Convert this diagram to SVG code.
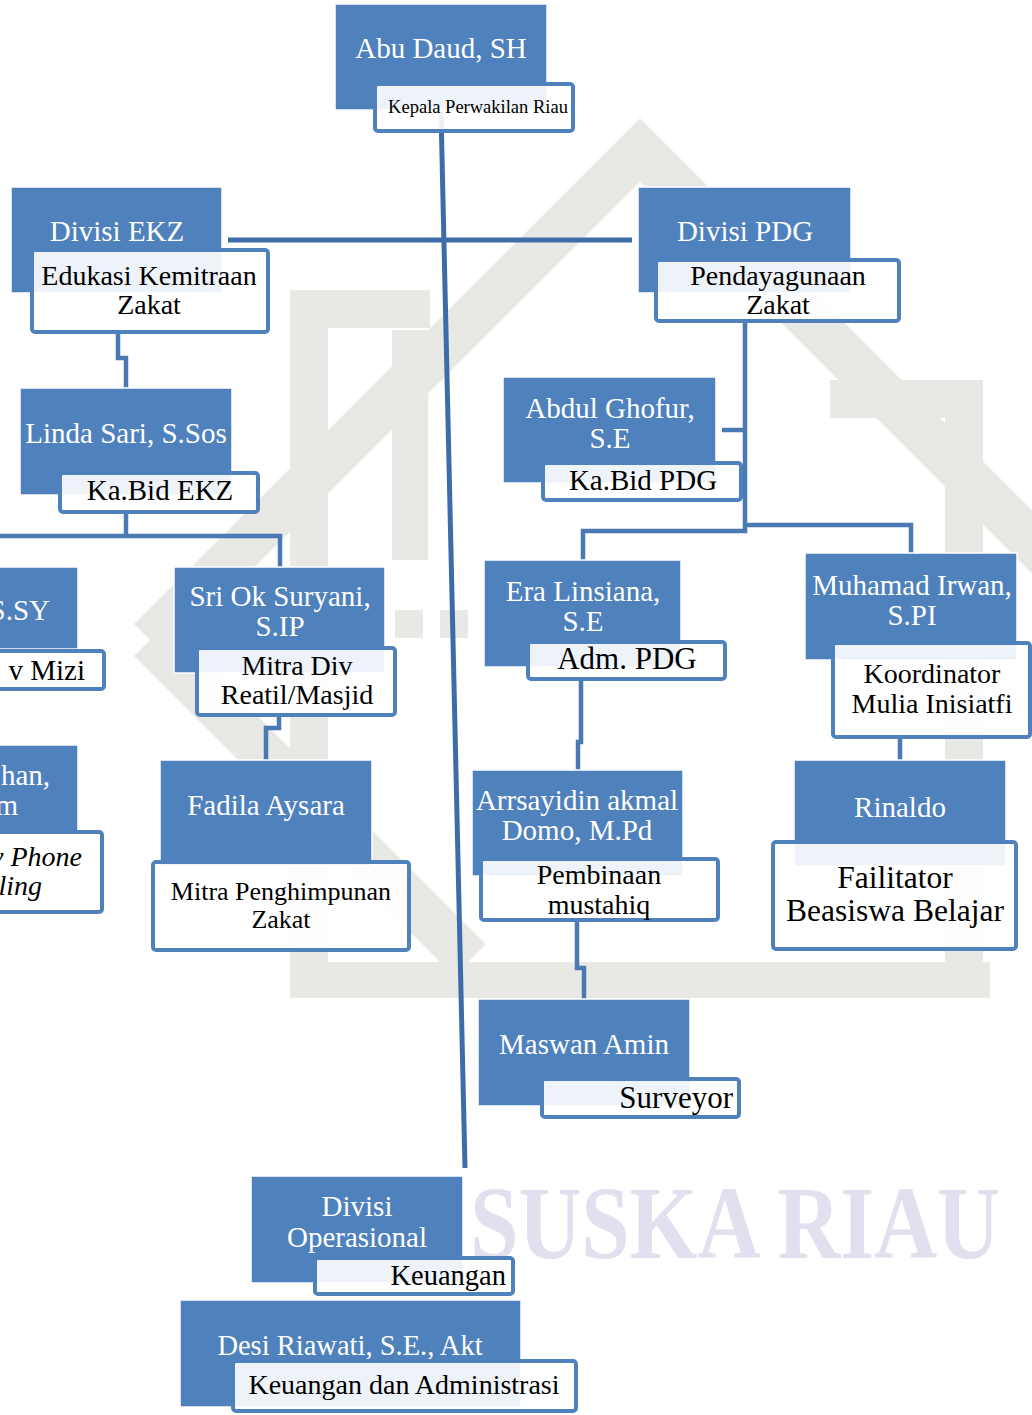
<svg xmlns="http://www.w3.org/2000/svg" width="1032" height="1415" viewBox="0 0 1032 1415">
<style>
.box{fill:#4F81BD;stroke:#fff;stroke-width:1.5}
.sub{fill:#fff;fill-opacity:0.9;stroke:#4F81BD;stroke-width:4}
.nm{font-family:"Liberation Serif","Times New Roman",serif;font-size:29px;fill:#fff;text-anchor:middle}
.tx{font-family:"Liberation Serif","Times New Roman",serif;font-size:28px;fill:#000;text-anchor:middle}
.ln{fill:none;stroke:#4A79B3;stroke-width:4.5}
.wm{fill:#E8E9E4}
</style>
<g id="watermark">
<polyline points="150,640 640,150 1060,570" fill="none" stroke="#E8E9E4" stroke-width="45"/>
<polyline points="150,640 470,960" fill="none" stroke="#E8E9E4" stroke-width="45"/>
<rect class="wm" x="290" y="962" width="700" height="36"/>
<rect class="wm" x="290" y="290" width="38" height="700"/>
<rect class="wm" x="945" y="380" width="38" height="610"/>
<rect class="wm" x="392" y="330" width="36" height="230"/>
<rect class="wm" x="290" y="290" width="140" height="38"/>
<rect class="wm" x="395" y="610" width="28" height="28"/>
<rect class="wm" x="440" y="610" width="28" height="28"/>
<rect class="wm" x="830" y="380" width="153" height="38"/>
<text x="470" y="1258" font-family="Liberation Serif,serif" font-weight="bold" font-size="104" fill="#E0E0EF" textLength="530" lengthAdjust="spacingAndGlyphs">SUSKA RIAU</text>
</g>
<g id="connectors">
<line x1="441" y1="112" x2="465" y2="1168" stroke="#3E6CA8" stroke-width="5"/>
<line x1="228" y1="240" x2="632" y2="240" stroke="#3E6CA8" stroke-width="5"/>
<path class="ln" d="M118 330 V358 H126 V390"/>
<path class="ln" d="M126 510 V536 H0 M126 536 H280 V568"/>
<path class="ln" d="M279 713 V728 H266 V762"/>
<path class="ln" d="M745 319 V531 H583 V562 M745 525 H911 V555 M722 430 H745"/>
<path class="ln" d="M581 677 V742 H578 V772"/>
<path class="ln" d="M577 918 V968 H584 V1001"/>
<path class="ln" d="M900 735 V762"/>
</g>
<g id="n-abu">
<rect class="box" x="335" y="4" width="212" height="106"/>
<text class="nm" x="441" y="58">Abu Daud, SH</text>
<rect class="sub" x="375" y="84" width="198" height="47" rx="3"/>
<text class="tx" x="478" y="113" style="font-size:18.5px">Kepala Perwakilan Riau</text>
</g>
<g id="n-ekz">
<rect class="box" x="11" y="187" width="211" height="106"/>
<text class="nm" x="117" y="241">Divisi EKZ</text>
<rect class="sub" x="32" y="250" width="236" height="82" rx="3"/>
<text class="tx" x="149" y="285">Edukasi Kemitraan</text>
<text class="tx" x="149" y="314">Zakat</text>
</g>
<g id="n-pdg">
<rect class="box" x="638" y="187" width="213" height="106"/>
<text class="nm" x="745" y="241">Divisi PDG</text>
<rect class="sub" x="656" y="260" width="243" height="61" rx="3"/>
<text class="tx" x="778" y="285">Pendayagunaan</text>
<text class="tx" x="778" y="314">Zakat</text>
</g>
<g id="n-linda">
<rect class="box" x="20" y="388" width="212" height="107"/>
<text class="nm" x="126" y="443">Linda Sari, S.Sos</text>
<rect class="sub" x="60" y="473" width="198" height="39" rx="3"/>
<text class="tx" x="160" y="500" style="font-size:29px">Ka.Bid EKZ</text>
</g>
<g id="n-ssy">
<rect class="box" x="-120" y="567" width="198" height="82"/>
<text class="nm" x="50" y="620" style="text-anchor:end">S.SY</text>
<rect class="sub" x="-100" y="651" width="204" height="38" rx="3"/>
<text class="tx" x="85" y="680" style="text-anchor:end;font-size:29px">v Mizi</text>
</g>
<g id="n-han">
<rect class="box" x="-120" y="745" width="198" height="87"/>
<text class="nm" x="50" y="785" style="text-anchor:end">han,</text>
<text class="nm" x="18" y="815" style="text-anchor:end">m</text>
<rect class="sub" x="-100" y="832" width="202" height="80" rx="3"/>
<text class="tx" x="82" y="866" style="text-anchor:end;font-style:italic">v Phone</text>
<text class="tx" x="42" y="895" style="text-anchor:end;font-style:italic">ling</text>
</g>
<g id="n-sri">
<rect class="box" x="174" y="567" width="211" height="106"/>
<text class="nm" x="280" y="606">Sri Ok Suryani,</text>
<text class="nm" x="280" y="636">S.IP</text>
<rect class="sub" x="197" y="648" width="198" height="67" rx="3"/>
<text class="tx" x="297" y="675">Mitra Div</text>
<text class="tx" x="297" y="704">Reatil/Masjid</text>
</g>
<g id="n-fadila">
<rect class="box" x="160" y="760" width="212" height="106"/>
<text class="nm" x="266" y="815">Fadila Aysara</text>
<rect class="sub" x="153" y="862" width="256" height="88" rx="3"/>
<text class="tx" x="281" y="900" style="font-size:26px">Mitra Penghimpunan</text>
<text class="tx" x="281" y="928" style="font-size:26px">Zakat</text>
</g>
<g id="n-abdul">
<rect class="box" x="503" y="377" width="213" height="106"/>
<text class="nm" x="610" y="418">Abdul Ghofur,</text>
<text class="nm" x="610" y="448">S.E</text>
<rect class="sub" x="543" y="463" width="198" height="37" rx="3"/>
<text class="tx" x="643" y="490" style="font-size:29px">Ka.Bid PDG</text>
</g>
<g id="n-era">
<rect class="box" x="484" y="560" width="197" height="107"/>
<text class="nm" x="583" y="601">Era Linsiana,</text>
<text class="nm" x="583" y="631">S.E</text>
<rect class="sub" x="528" y="642" width="197" height="37" rx="3"/>
<text class="tx" x="627" y="669" style="font-size:31px">Adm. PDG</text>
</g>
<g id="n-irwan">
<rect class="box" x="805" y="553" width="212" height="107"/>
<text class="nm" x="912" y="595">Muhamad Irwan,</text>
<text class="nm" x="912" y="625">S.PI</text>
<rect class="sub" x="833" y="643" width="197" height="94" rx="3"/>
<text class="tx" x="932" y="683">Koordinator</text>
<text class="tx" x="932" y="713">Mulia Inisiatfi</text>
</g>
<g id="n-arr">
<rect class="box" x="472" y="770" width="211" height="106"/>
<text class="nm" x="577" y="810">Arrsayidin akmal</text>
<text class="nm" x="577" y="840">Domo, M.Pd</text>
<rect class="sub" x="481" y="859" width="237" height="61" rx="3"/>
<text class="tx" x="599" y="884">Pembinaan</text>
<text class="tx" x="599" y="914">mustahiq</text>
</g>
<g id="n-rinaldo">
<rect class="box" x="794" y="760" width="212" height="106"/>
<text class="nm" x="900" y="817">Rinaldo</text>
<rect class="sub" x="773" y="842" width="243" height="107" rx="3"/>
<text class="tx" x="895" y="888" style="font-size:31.5px">Failitator</text>
<text class="tx" x="895" y="921" style="font-size:31.5px">Beasiswa Belajar</text>
</g>
<g id="n-maswan">
<rect class="box" x="478" y="999" width="212" height="107"/>
<text class="nm" x="584" y="1054">Maswan Amin</text>
<rect class="sub" x="542" y="1079" width="197" height="38" rx="3"/>
<text class="tx" x="733" y="1108" style="text-anchor:end;font-size:31px">Surveyor</text>
</g>
<g id="n-ops">
<rect class="box" x="251" y="1176" width="212" height="107"/>
<text class="nm" x="357" y="1216">Divisi</text>
<text class="nm" x="357" y="1247">Operasional</text>
<rect class="sub" x="315" y="1258" width="198" height="36" rx="3"/>
<text class="tx" x="506" y="1285" style="text-anchor:end;font-size:28.5px">Keuangan</text>
</g>
<g id="n-desi">
<rect class="box" x="180" y="1300" width="341" height="107"/>
<text class="nm" x="350" y="1355" style="font-size:28.5px">Desi Riawati, S.E., Akt</text>
<rect class="sub" x="233" y="1361" width="343" height="50" rx="3"/>
<text class="tx" x="404" y="1394">Keuangan dan Administrasi</text>
</g>
</svg>
